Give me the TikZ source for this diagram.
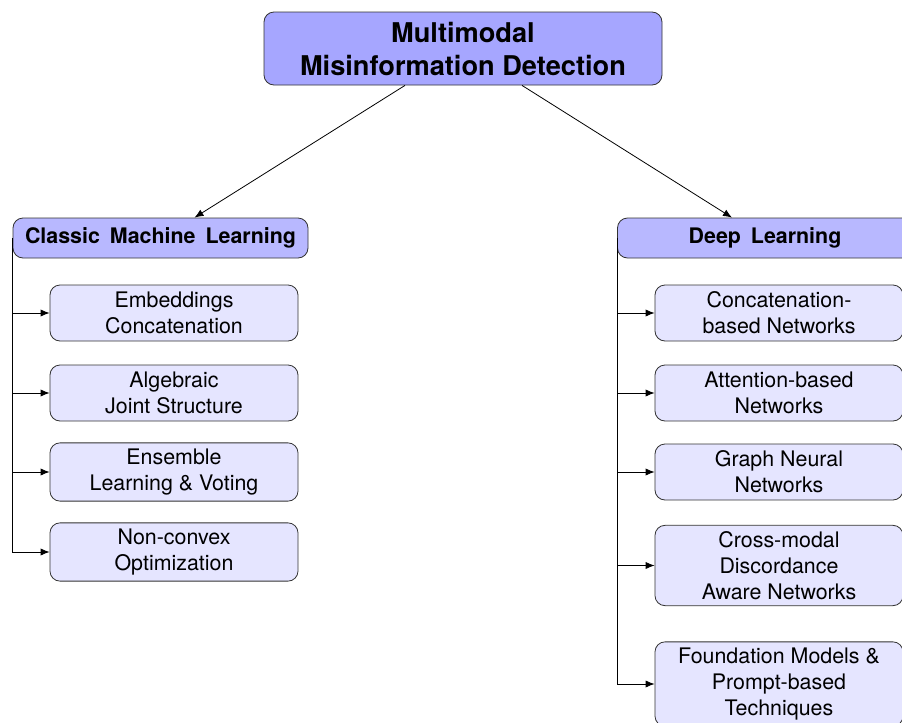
\documentclass[tikz,border=0pt]{standalone}
\usepackage{fontspec}
\setmainfont{TeX Gyre Heros}
\usetikzlibrary{shapes,arrows,arrows.meta,positioning,calc}

\tikzset{
	rootbox/.style={draw=black!80, fill=blue!35, rounded corners=5pt, minimum width=199pt, minimum height=36.5pt, align=center, font=\fontsize{13.6}{16.5}\selectfont\bfseries},
	catbox/.style={draw=black!80, fill=blue!28, rounded corners=5pt, minimum width=147.5pt, minimum height=20pt, align=center, font=\fontsize{10.7}{13}\selectfont\bfseries},
	leafbox/.style={draw=black!80, fill=blue!10, rounded corners=5pt, minimum width=124pt, minimum height=28pt, inner sep=3pt, align=center, font=\fontsize{10.7}{13}\selectfont},
	link/.style={-{Latex[length=4.5pt,width=3.6pt]}, black}
}

\begin{document}
\begin{tikzpicture}[x=0.5pt,y=-0.5pt]
	\useasboundingbox (0,0) rectangle (902,723);

	\node[rootbox]	(mmd)	at (463,48.5)	{Multimodal\\Misinformation Detection};
	\node[catbox]	(cml)	at (160.5,238)	{Classic\hspace{5pt}Machine\hspace{5pt}Learning};
	\node[catbox]	(dl)	at (765,238)	{Deep\hspace{5pt}Learning};

	\node[leafbox]	(emb)	at (174,313)	{Embeddings\\Concatenation};
	\node[leafbox]	(alg)	at (174,393)	{Algebraic\\Joint Structure};
	\node[leafbox]	(ens)	at (174,472)	{Ensemble\\Learning \& Voting};
	\node[leafbox]	(ncx)	at (174,552)	{Non-convex\\Optimization};

	\node[leafbox]	(cat)	at (779,313)	{Concatenation-\\based Networks};
	\node[leafbox]	(att)	at (779,393)	{Attention-based\\Networks};
	\node[leafbox]	(gnn)	at (779,472)	{Graph Neural\\Networks};
	\node[leafbox]	(cmd)	at (779,565.5)	{Cross-modal\\Discordance\\Aware Networks};
	\node[leafbox]	(fmp)	at (779,684)	{Foundation Models \&\\Prompt-based\\Techniques};

	\draw[link]	([xshift=-29pt]mmd.south)	-- ([xshift=17pt]cml.north);
	\draw[link]	([xshift=29.5pt]mmd.south)	-- ([xshift=-16.5pt]dl.north);

	\draw[link]	(cml.west) |- (emb.west);
	\draw[link]	(cml.west) |- (alg.west);
	\draw[link]	(cml.west) |- (ens.west);
	\draw[link]	(cml.west) |- (ncx.west);

	\draw[link]	(dl.west) |- (cat.west);
	\draw[link]	(dl.west) |- (att.west);
	\draw[link]	(dl.west) |- (gnn.west);
	\draw[link]	(dl.west) |- (cmd.west);
	\draw[link]	(dl.west) |- (fmp.west);
\end{tikzpicture}
\end{document}
